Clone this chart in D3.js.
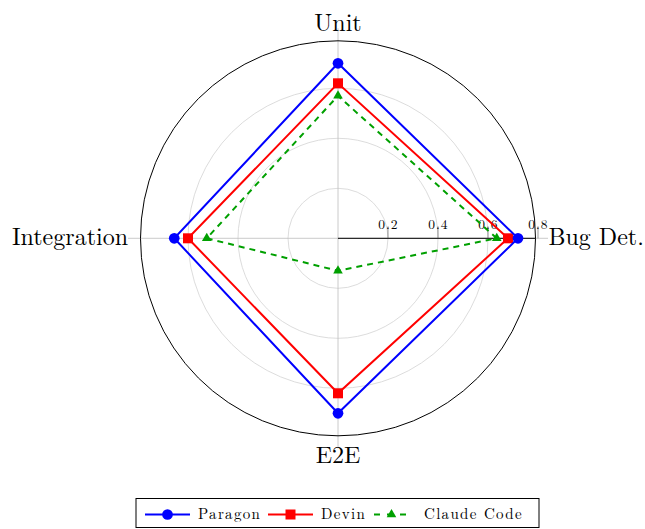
<!DOCTYPE html>
<html><head><meta charset="utf-8">
<script src="https://cdn.jsdelivr.net/npm/d3@7"></script>
<style>body{margin:0;background:#fff}svg{display:block}</style>
</head><body>
<script>
const axes = ["Bug Det.", "Unit", "Integration", "E2E"];
const paragon = [0.72, 0.70, 0.655, 0.70];
const devin = [0.68, 0.62, 0.60, 0.62];
const claude = [0.635, 0.57, 0.525, 0.13];
const tickVals = [0.2, 0.4, 0.6, 0.8];
const tickLabels = ["0.2", "0.4", "0.6", "0.8"];
const seriesNames = ["Paragon", "Devin", "Claude Code"];

const W = 645, H = 529, cx = 338, cy = 238.3;
const font = "'Latin Modern Roman','Liberation Serif','DejaVu Serif',serif";
const svg = d3.select("body").append("svg").attr("width", W).attr("height", H);
const r = d3.scaleLinear().domain([0, 0.8]).range([0, 200]);
const outerR = 197.5;
const ang = d3.scaleOrdinal().domain(axes).range([0, 90, 180, 270]);
const pt = (a, v) => { const t = ang(a) * Math.PI / 180; return [cx + r(v) * Math.cos(t), cy - r(v) * Math.sin(t)]; };

const g = svg.append("g");
g.selectAll("circle.grid").data(tickVals.slice(0, 3)).join("circle")
  .attr("cx", cx).attr("cy", cy).attr("r", d => r(d))
  .attr("fill", "none").attr("stroke", "#d3d3d3").attr("stroke-width", 0.8);
g.selectAll("line.spoke").data(axes).join("line")
  .attr("x1", cx).attr("y1", cy)
  .attr("x2", d => cx + 210 * Math.cos(ang(d) * Math.PI / 180))
  .attr("y2", d => cy - 210 * Math.sin(ang(d) * Math.PI / 180))
  .attr("stroke", "#bdbdbd").attr("stroke-width", 0.8);
g.append("circle").attr("cx", cx).attr("cy", cy).attr("r", outerR)
  .attr("fill", "none").attr("stroke", "#000").attr("stroke-width", 1);
g.append("line").attr("x1", cx).attr("y1", cy).attr("x2", cx + outerR).attr("y2", cy)
  .attr("stroke", "#000").attr("stroke-width", 1);
g.selectAll("line.tick").data(tickVals).join("line")
  .attr("x1", d => cx + r(d)).attr("x2", d => cx + r(d))
  .attr("y1", cy - 12).attr("y2", cy)
  .attr("stroke", "#555").attr("stroke-width", 0.6);
g.selectAll("text.tl").data(tickVals).join("text")
  .attr("x", d => cx + r(d) + 0.5).attr("y", cy - 9)
  .attr("text-anchor", "middle").attr("font-family", font).attr("font-size", 13.5)
  .attr("letter-spacing", 1.0).attr("fill", "#000")
  .text((d, i) => tickLabels[i]);

const lab = [
  {a: "Bug Det.", x: cx + 210.5, y: 245, anchor: "start"},
  {a: "Unit", x: cx, y: 31, anchor: "middle"},
  {a: "Integration", x: cx - 210, y: 245, anchor: "end"},
  {a: "E2E", x: cx, y: 463, anchor: "middle"}
];
g.selectAll("text.ax").data(lab).join("text")
  .attr("x", d => d.x).attr("y", d => d.y).attr("text-anchor", d => d.anchor)
  .attr("font-family", font).attr("font-size", 24).text(d => d.a);

const series = [
  {name: seriesNames[0], vals: paragon, color: "#0000ff", dash: null, marker: "circle"},
  {name: seriesNames[1], vals: devin, color: "#ff0000", dash: null, marker: "square"},
  {name: seriesNames[2], vals: claude, color: "#00a000", dash: "6,5", marker: "triangle"}
];
const sym = {circle: d3.symbol(d3.symbolCircle, 90), square: d3.symbol(d3.symbolSquare, 100), triangle: d3.symbol(d3.symbolTriangle, 40)};
const line = d3.line().curve(d3.curveLinearClosed);
series.slice().reverse().forEach(s => {
  const pts = axes.map((a, i) => pt(a, s.vals[i]));
  g.append("path").attr("d", line(pts)).attr("fill", "none")
    .attr("stroke", s.color).attr("stroke-width", 2)
    .attr("stroke-dasharray", s.dash);
  g.selectAll(null).data(pts).join("path")
    .attr("d", sym[s.marker]).attr("transform", d => `translate(${d[0]},${d[1]})`)
    .attr("fill", s.color);
});

const lg = svg.append("g");
lg.append("rect").attr("x", 136).attr("y", 498.5).attr("width", 403).attr("height", 29)
  .attr("fill", "#fff").attr("stroke", "#000").attr("stroke-width", 1);
const lx = [145, 268, 371];
const lw = [45, 45, 41];
series.forEach((s, i) => {
  const y = 514.5;
  lg.append("line").attr("x1", lx[i]).attr("x2", lx[i] + lw[i]).attr("y1", y).attr("y2", y)
    .attr("stroke", s.color).attr("stroke-width", 2).attr("stroke-dasharray", s.dash ? "6,7" : null)
    .attr("stroke-dashoffset", s.dash ? -3 : null);
  lg.append("path").attr("d", sym[s.marker]).attr("transform", `translate(${lx[i] + lw[i] / 2},${y})`).attr("fill", s.color);
  lg.append("text").attr("x", lx[i] + lw[i] + 8 + (i === 2 ? 4 : 0)).attr("y", y + 4.5)
    .attr("font-family", font).attr("font-size", 15).attr("letter-spacing", 1.3).text(s.name);
});
</script>
</body></html>
